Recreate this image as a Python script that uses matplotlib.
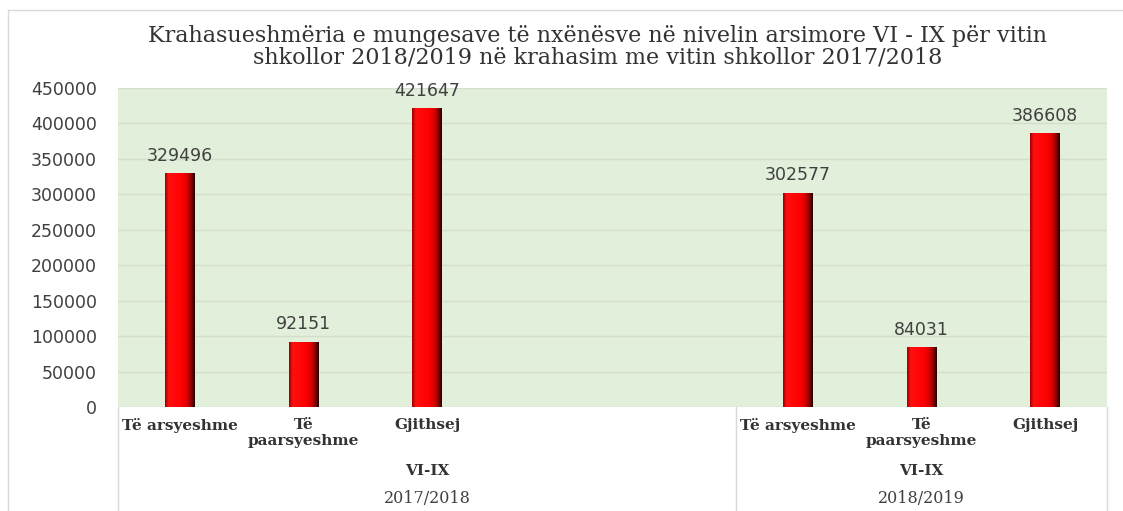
import numpy as np
import matplotlib
matplotlib.use("Agg")
import matplotlib.pyplot as plt
from matplotlib.colors import LinearSegmentedColormap
from matplotlib.lines import Line2D

# data
title = ("Krahasueshmëria e mungesave të nxënësve në nivelin arsimore VI - IX për vitin\n"
         "shkollor 2018/2019 në krahasim me vitin shkollor 2017/2018")
categories = ["Të arsyeshme", "Të\npaarsyeshme", "Gjithsej"]
level = "VI-IX"
years = ["2017/2018", "2018/2019"]
values_2017 = [329496, 92151, 421647]
values_2018 = [302577, 84031, 386608]
yticks = np.arange(0, 450001, 50000)

n_gap = 2  # empty category slots after the first year
pos_2017 = np.arange(len(values_2017))
pos_2018 = np.arange(len(values_2018)) + len(values_2017) + n_gap
n_slots = len(values_2017) + n_gap + len(values_2018)

fig = plt.figure(figsize=(11.23, 5.11), dpi=100)
ax = fig.add_axes([118 / 1123, 104 / 511, (1107 - 118) / 1123, 319 / 511])
ax.set_facecolor("#e2efda")

# chart border (light grey, top and left)
fig.add_artist(Line2D([8 / 1123, 1], [1 - 10 / 511] * 2, color="#d9d9d9", lw=1))
fig.add_artist(Line2D([8 / 1123] * 2, [0, 1 - 10 / 511], color="#d9d9d9", lw=1))

bar_cmap = LinearSegmentedColormap.from_list(
    "cyl", [(0, "#a00000"), (0.12, "#ff1010"), (0.55, "#ff0000"),
            (0.75, "#d80000"), (0.9, "#800000"), (1, "#200000")])
grad = np.linspace(0, 1, 64).reshape(1, -1)

width = 0.24
for pos, vals in [(pos_2017, values_2017), (pos_2018, values_2018)]:
    bars = ax.bar(pos, vals, width=width, color="#ff0000", zorder=3)
    for b, v in zip(bars, vals):
        x0 = b.get_x()
        im = ax.imshow(grad, cmap=bar_cmap, aspect="auto", zorder=4,
                       extent=[x0, x0 + b.get_width(), 0, v])
        im.set_clip_path(b)
        ax.annotate(f"{v}", (b.get_x() + b.get_width() / 2, v),
                    xytext=(0, 6), textcoords="offset points",
                    ha="center", va="bottom", fontsize=12.5, color="#404040")

ax.set_xlim(-0.5, n_slots - 0.5)
ax.set_ylim(0, 450000)
ax.set_yticks(yticks)
ax.set_yticklabels([str(t) for t in yticks], fontsize=12.5, color="#404040")
ax.tick_params(axis="y", length=0, pad=15)
ax.set_xticks([])
ax.grid(axis="y", color="#d3dfcc", lw=1, zorder=0)
ax.set_axisbelow(True)
for s in ax.spines.values():
    s.set_visible(False)

# multi-level category axis
serif = "DejaVu Serif"
for grp, pos in enumerate([pos_2017, pos_2018]):
    for p, c in zip(pos, categories):
        ax.annotate(c, (p, 0), xycoords=("data", "axes fraction"),
                    xytext=(0, -8), textcoords="offset points",
                    ha="center", va="top", fontsize=11, fontweight="bold",
                    family=serif, color="#333333", linespacing=1.2)
    lo = -0.5 if grp == 0 else pos_2018[0] - 0.5
    hi = pos_2017[-1] + n_gap + 0.5 if grp == 0 else n_slots - 0.5
    mid = (lo + hi) / 2
    ax.annotate(level, (mid, 0), xycoords=("data", "axes fraction"),
                xytext=(0, -46), textcoords="offset points",
                ha="center", va="center", fontsize=11, fontweight="bold",
                family=serif, color="#333333")
    ax.annotate(years[grp], (mid, 0), xycoords=("data", "axes fraction"),
                xytext=(0, -66), textcoords="offset points",
                ha="center", va="center", fontsize=11.5, family=serif,
                color="#404040")

for xd in [-0.5, pos_2018[0] - 0.5, n_slots - 0.5]:
    ax.plot([xd, xd], [0, -104 / 319], transform=ax.get_xaxis_transform(),
            color="#d9d9d9", lw=1, clip_on=False)

fig.text(0.532, 1 - 47 / 511, title, ha="center", va="center", fontsize=16,
         family=serif, color="#333333", linespacing=0.95)

fig.savefig("out.png", dpi=100)
